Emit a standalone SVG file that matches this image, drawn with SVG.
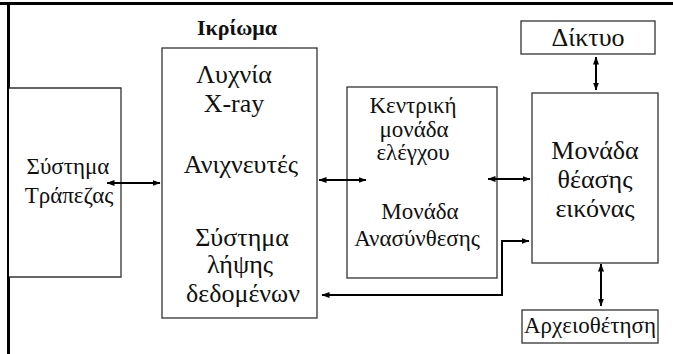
<svg xmlns="http://www.w3.org/2000/svg" width="673" height="354" viewBox="0 0 673 354">
<defs>
<marker id="ah" viewBox="0 0 8 6" refX="7.5" refY="3" markerWidth="8" markerHeight="6" markerUnits="userSpaceOnUse" orient="auto-start-reverse">
<path d="M0,0 L8,3 L0,6 z" fill="#000"/>
</marker>
<style>
.box{fill:#fff;stroke:#333;stroke-width:1.3}
.t{font-family:"Liberation Serif","Times New Roman",serif;font-size:26px;fill:#111;text-anchor:middle}
.s{font-size:23px}
.b{font-weight:bold;font-size:22px}
.c{fill:none;stroke:#000;stroke-width:2}
.frame{stroke:#000;stroke-width:3;fill:none}
</style>
</defs>
<rect width="673" height="354" fill="#fff"/>
<g id="frame">
<line class="frame" x1="0" y1="3.5" x2="673" y2="3.5"/>
<line class="frame" x1="8.5" y1="2" x2="8.5" y2="354"/>
</g>
<g id="table">
<path class="box" d="M9,88 H121 V277 H9"/>
<text class="t s" x="68" y="174">Σύστημα</text>
<text class="t s" x="69" y="203">Τράπεζας</text>
</g>
<g id="gantry">
<text class="t b" x="237" y="35">Ικρίωμα</text>
<rect class="box" x="162" y="48" width="155" height="270"/>
<text class="t" x="234" y="83">Λυχνία</text>
<text class="t" x="234" y="112">X-ray</text>
<text class="t" x="241" y="173">Ανιχνευτές</text>
<text class="t" x="242" y="246">Σύστημα</text>
<text class="t" x="240" y="273">λήψης</text>
<text class="t" x="243" y="302">δεδομένων</text>
</g>
<g id="control">
<rect class="box" x="347" y="87" width="150" height="191"/>
<text class="t s" x="413" y="113">Κεντρική</text>
<text class="t s" x="414" y="137">μονάδα</text>
<text class="t s" x="413" y="160">ελέγχου</text>
<text class="t s" x="420" y="219">Μονάδα</text>
<text class="t s" x="417" y="246">Ανασύνθεσης</text>
</g>
<g id="viewer">
<rect class="box" x="532" y="93" width="126" height="170"/>
<text class="t" x="595" y="159">Μονάδα</text>
<text class="t" x="595" y="188">θέασης</text>
<text class="t" x="595" y="217">εικόνας</text>
</g>
<g id="network">
<rect class="box" x="521" y="21" width="134" height="33"/>
<text class="t" x="588" y="46">Δίκτυο</text>
</g>
<g id="archive">
<rect class="box" x="522" y="310" width="136" height="33"/>
<text class="t s" x="590" y="333">Αρχειοθέτηση</text>
</g>
<g id="connectors">
<line class="c" x1="107" y1="183" x2="160" y2="183" marker-start="url(#ah)" marker-end="url(#ah)"/>
<line class="c" x1="319" y1="180" x2="366" y2="180" marker-start="url(#ah)" marker-end="url(#ah)"/>
<line class="c" x1="488" y1="179" x2="530" y2="179" marker-start="url(#ah)" marker-end="url(#ah)"/>
<line class="c" x1="596" y1="57" x2="596" y2="90" marker-start="url(#ah)" marker-end="url(#ah)"/>
<line class="c" x1="601" y1="264" x2="601" y2="306" marker-start="url(#ah)" marker-end="url(#ah)"/>
<path class="c" d="M322,295 H502 V241 H529" marker-start="url(#ah)" marker-end="url(#ah)"/>
</g>
</svg>
